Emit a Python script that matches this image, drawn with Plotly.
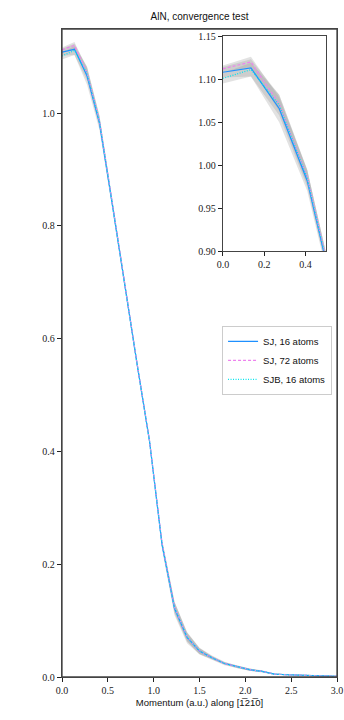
import plotly.graph_objects as go

# ---- data ----
momentum = [0.0, 0.136, 0.273, 0.409, 0.545, 0.682, 0.818, 0.955, 1.091, 1.227,
            1.364, 1.5, 1.636, 1.773, 1.909, 2.045, 2.182, 2.318, 2.455, 2.591,
            2.727, 2.864, 3.0]
sj_16 = [1.108, 1.113, 1.066, 0.982, 0.842, 0.695, 0.556, 0.418, 0.235, 0.122,
         0.070, 0.046, 0.034, 0.024, 0.018, 0.013, 0.010, 0.005, 0.004, 0.003,
         0.003, 0.002, 0.001]
sj_72 = [1.112, 1.120, 1.071, 0.986, 0.845, 0.697, 0.557, 0.419, 0.238, 0.124,
         0.071, 0.046, 0.034, 0.024, 0.018, 0.013, 0.010, 0.005, 0.004, 0.003,
         0.003, 0.002, 0.001]
sjb_16 = [1.101, 1.111, 1.070, 0.985, 0.843, 0.696, 0.556, 0.418, 0.236, 0.123,
          0.071, 0.046, 0.034, 0.024, 0.018, 0.013, 0.010, 0.005, 0.004, 0.003,
          0.003, 0.002, 0.001]
# half-widths of the grey uncertainty bands
sj_16_err = [0.006, 0.010, 0.016, 0.012, 0.008, 0.006, 0.006, 0.006, 0.008, 0.012,
             0.010, 0.006, 0.004, 0.003, 0.002, 0.002, 0.002, 0.001, 0.001, 0.001,
             0.001, 0.001, 0.001]
sj_72_err = [0.004, 0.006, 0.008, 0.008, 0.006, 0.005, 0.005, 0.005, 0.006, 0.008,
             0.007, 0.005, 0.003, 0.002, 0.002, 0.002, 0.001, 0.001, 0.001, 0.001,
             0.001, 0.001, 0.001]
sjb_16_err = [0.006, 0.008, 0.012, 0.010, 0.007, 0.005, 0.005, 0.005, 0.007, 0.010,
              0.008, 0.005, 0.003, 0.002, 0.002, 0.002, 0.001, 0.001, 0.001, 0.001,
              0.001, 0.001, 0.001]

main_xticks = [0.0, 0.5, 1.0, 1.5, 2.0, 2.5, 3.0]
main_yticks = [0.0, 0.2, 0.4, 0.6, 0.8, 1.0]
inset_xticks = [0.0, 0.2, 0.4]
inset_yticks = [0.90, 0.95, 1.00, 1.05, 1.10, 1.15]

series = [
    ("SJ, 16 atoms", sj_16, sj_16_err, "#1e90ff", "solid"),
    ("SJ, 72 atoms", sj_72, sj_72_err, "#ee82ee", "3px,2px"),
    ("SJB, 16 atoms", sjb_16, sjb_16_err, "#00e5ee", "1px,1.5px"),
]

fig = go.Figure()
band_color = "rgba(150,150,150,0.28)"

for xa, ya, show in [("x", "y", True), ("x2", "y2", False)]:
    for name, vals, err, col, dash in series:
        lo = [v - e for v, e in zip(vals, err)]
        hi = [v + e for v, e in zip(vals, err)]
        fig.add_trace(go.Scatter(x=momentum, y=lo, mode="lines", line=dict(width=0),
                                 showlegend=False, hoverinfo="skip", xaxis=xa, yaxis=ya))
        fig.add_trace(go.Scatter(x=momentum, y=hi, mode="lines", line=dict(width=0),
                                 fill="tonexty", fillcolor=band_color,
                                 showlegend=False, hoverinfo="skip", xaxis=xa, yaxis=ya))
    for name, vals, err, col, dash in series:
        fig.add_trace(go.Scatter(x=momentum, y=vals, mode="lines", name=name,
                                 line=dict(color=col, width=1.2, dash=dash),
                                 showlegend=show, xaxis=xa, yaxis=ya))

serif = dict(family="Liberation Serif", size=10, color="#222")
frame = dict(showline=True, linecolor="#444", linewidth=1.3, mirror=True,
             ticks="outside", ticklen=4, tickcolor="#222", showgrid=False,
             zeroline=False, tickfont=serif, automargin=False)

fig.update_layout(
    width=344, height=720,
    margin=dict(l=62, r=7, t=29, b=43),
    paper_bgcolor="white", plot_bgcolor="white",
    title=dict(text="AlN, convergence test", x=0.58, xanchor="center",
               y=0.977, yanchor="middle",
               font=dict(family="Liberation Sans", size=10, color="#111")),
    xaxis=dict(range=[0, 3], tickvals=main_xticks, tickformat=".1f",
               title=dict(text="Momentum (a.u.) along [1\u030521\u03050]",
                          font=dict(family="Liberation Sans", size=9.5, color="#111"),
                          standoff=4),
               **frame),
    yaxis=dict(range=[0, 1.149], tickvals=main_yticks, tickformat=".1f", **frame),
    xaxis2=dict(domain=[0.585, 0.96], anchor="y2", range=[0, 0.5],
                tickvals=inset_xticks, tickformat=".1f", **frame),
    yaxis2=dict(domain=[0.657, 0.989], anchor="x2", range=[0.90, 1.15],
                tickvals=inset_yticks, tickformat=".2f", **frame),
    legend=dict(x=0.582, y=0.542, xanchor="left", yanchor="top",
                bgcolor="white", bordercolor="#ccc", borderwidth=1,
                font=dict(family="Liberation Sans", size=9.5, color="#111"),
                tracegroupgap=0, traceorder="normal", itemwidth=30),
    showlegend=True,
    shapes=[dict(type="rect", xref="paper", yref="paper", x0=0, x1=1, y0=0, y1=1,
                 line=dict(color="#444", width=1.3), fillcolor="rgba(0,0,0,0)",
                 layer="above")],
)

fig.write_html("out.html", config={"displayModeBar": False},
               post_script="document.body.style.margin='0';document.body.style.padding='0';")
